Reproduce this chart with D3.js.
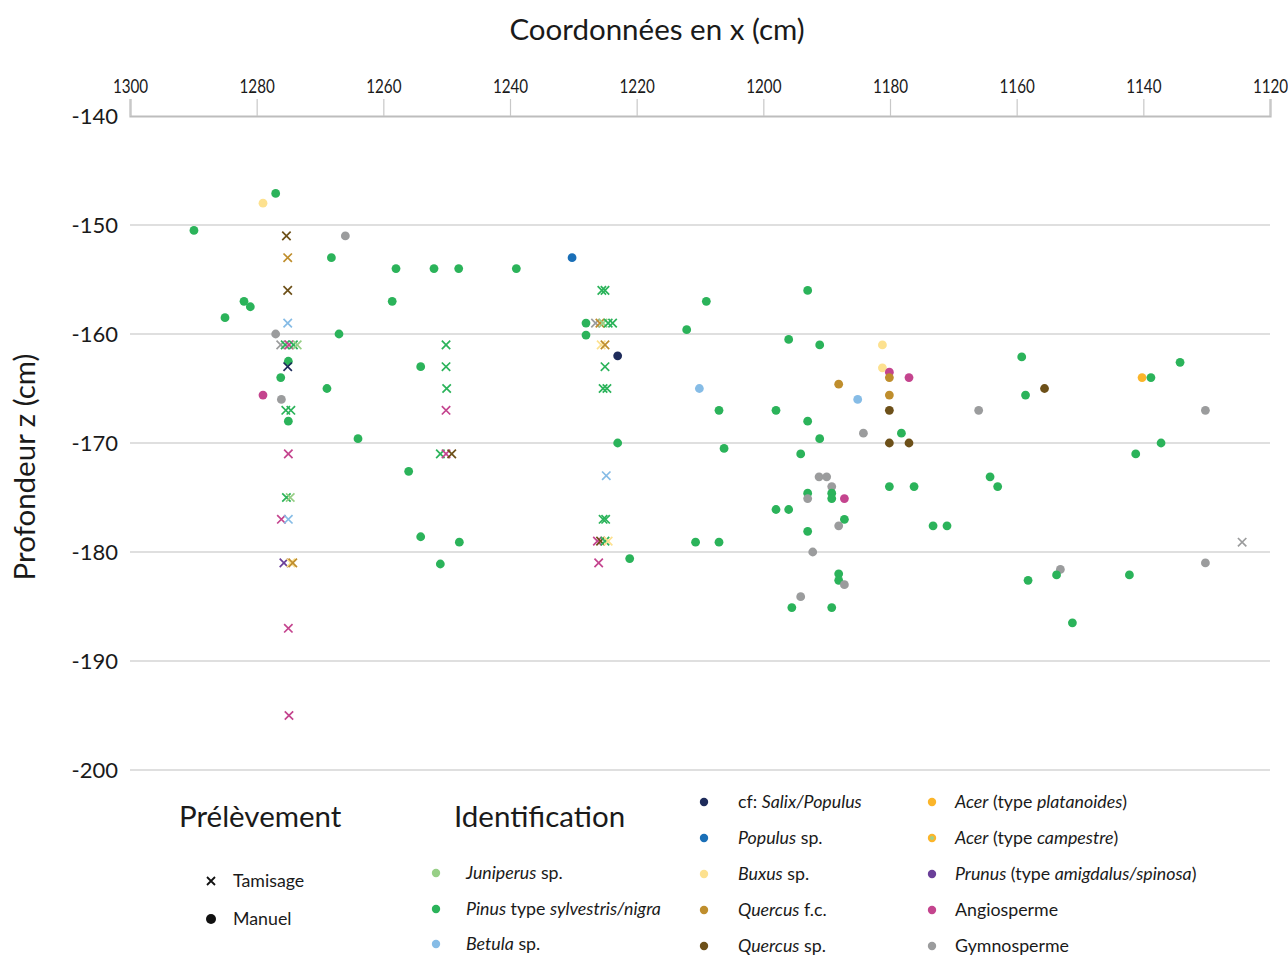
<!DOCTYPE html>
<html>
<head>
<meta charset="utf-8">
<script src="https://cdn.jsdelivr.net/npm/d3@7"></script>
<style>
  html, body { margin: 0; padding: 0; background: #fff; }
  svg text { font-family: Lato, "Open Sans", sans-serif; fill: #1a1a1a; }
</style>
</head>
<body>
<svg id="chart" width="1288" height="956"></svg>
<script>
// Taxa: key, colour, legend label pieces ([text, italic])
const taxonKeys = ["juniperus", "pinus", "betula", "salixPopulus", "populus", "buxus",
  "quercusFc", "quercusSp", "acerPlat", "acerCamp", "prunus", "angio", "gymno"];
const taxonColors = ["#97cf86", "#2bb35a", "#86bce6", "#1e2b5b", "#1a6fb7", "#fde18f",
  "#bf8e2d", "#6d5019", "#fbb52a", "#fbb52a", "#6a3f99", "#c4448e", "#9b9c9d"];
const taxonLabels = [
  [["Juniperus", 1], [" sp.", 0]],
  [["Pinus", 1], [" type ", 0], ["sylvestris/nigra", 1]],
  [["Betula", 1], [" sp.", 0]],
  [["cf: ", 0], ["Salix/Populus", 1]],
  [["Populus", 1], [" sp.", 0]],
  [["Buxus", 1], [" sp.", 0]],
  [["Quercus", 1], [" f.c.", 0]],
  [["Quercus", 1], [" sp.", 0]],
  [["Acer", 1], [" (type ", 0], ["platanoides", 1], [")", 0]],
  [["Acer", 1], [" (type ", 0], ["campestre", 1], [")", 0]],
  [["Prunus", 1], [" (type ", 0], ["amigdalus/spinosa", 1], [")", 0]],
  [["Angiosperme", 0]],
  [["Gymnosperme", 0]]
];

// Axis ticks
const xTicks = [1300, 1280, 1260, 1240, 1220, 1200, 1180, 1160, 1140, 1120];
const zTicks = [-140, -150, -160, -170, -180, -190, -200];

// Hand-picked samples: [taxon, x (cm), z (cm)]
const manuelPoints = [
  ["pinus", 1277.0, -147.1], ["buxus", 1279.0, -148.0], ["pinus", 1289.9, -150.5],
  ["gymno", 1266.0, -151.0], ["pinus", 1268.2, -153.0], ["pinus", 1282.0, -157.0],
  ["pinus", 1281.0, -157.5], ["pinus", 1285.0, -158.5], ["gymno", 1277.0, -160.0],
  ["pinus", 1267.0, -160.0], ["pinus", 1275.0, -162.5], ["pinus", 1276.2, -164.0],
  ["pinus", 1268.9, -165.0], ["angio", 1279.0, -165.6], ["gymno", 1276.1, -166.0],
  ["pinus", 1275.0, -168.0], ["pinus", 1264.0, -169.6], ["populus", 1230.2, -153.0],
  ["pinus", 1258.0, -154.0], ["pinus", 1252.0, -154.0], ["pinus", 1248.1, -154.0],
  ["pinus", 1239.0, -154.0], ["pinus", 1258.6, -157.0], ["pinus", 1254.1, -163.0],
  ["pinus", 1256.0, -172.6], ["pinus", 1254.1, -178.6], ["pinus", 1248.0, -179.1],
  ["pinus", 1251.0, -181.1], ["pinus", 1209.0, -157.0], ["pinus", 1228.0, -159.0],
  ["pinus", 1212.1, -159.6], ["pinus", 1228.0, -160.1], ["salixPopulus", 1223.0, -162.0],
  ["betula", 1210.1, -165.0], ["pinus", 1207.0, -167.0], ["pinus", 1198.0, -167.0],
  ["pinus", 1223.0, -170.0], ["pinus", 1206.2, -170.5], ["pinus", 1198.0, -176.1],
  ["pinus", 1210.7, -179.1], ["pinus", 1207.0, -179.1], ["pinus", 1221.1, -180.6],
  ["pinus", 1193.0, -156.0], ["pinus", 1196.0, -160.5], ["pinus", 1191.1, -161.0],
  ["buxus", 1181.2, -161.0], ["buxus", 1181.2, -163.1], ["angio", 1180.1, -163.5],
  ["quercusFc", 1180.1, -164.0], ["angio", 1177.0, -164.0], ["quercusFc", 1188.1, -164.6],
  ["quercusFc", 1180.1, -165.6], ["betula", 1185.1, -166.0], ["quercusSp", 1180.1, -167.0],
  ["pinus", 1193.0, -168.0], ["gymno", 1184.2, -169.1], ["pinus", 1178.2, -169.1],
  ["pinus", 1191.1, -169.6], ["quercusSp", 1180.1, -170.0], ["quercusSp", 1177.0, -170.0],
  ["pinus", 1194.1, -171.0], ["gymno", 1191.2, -173.1], ["gymno", 1190.0, -173.1],
  ["gymno", 1189.2, -174.0], ["pinus", 1193.0, -174.6], ["gymno", 1193.0, -175.1],
  ["pinus", 1189.2, -174.6], ["pinus", 1189.2, -175.1], ["angio", 1187.2, -175.1],
  ["pinus", 1180.1, -174.0], ["pinus", 1176.2, -174.0], ["pinus", 1196.0, -176.1],
  ["pinus", 1187.2, -177.0], ["gymno", 1188.1, -177.6], ["pinus", 1173.2, -177.6],
  ["pinus", 1171.0, -177.6], ["pinus", 1193.0, -178.1], ["gymno", 1192.2, -180.0],
  ["pinus", 1188.1, -182.0], ["pinus", 1188.1, -182.6], ["gymno", 1187.2, -183.0],
  ["gymno", 1194.1, -184.1], ["pinus", 1195.5, -185.1], ["pinus", 1189.2, -185.1],
  ["pinus", 1159.2, -162.1], ["pinus", 1134.2, -162.6], ["acerPlat", 1140.2, -164.0],
  ["pinus", 1138.8, -164.0], ["quercusSp", 1155.6, -165.0], ["pinus", 1158.6, -165.6],
  ["gymno", 1166.0, -167.0], ["gymno", 1130.2, -167.0], ["pinus", 1137.2, -170.0],
  ["pinus", 1141.2, -171.0], ["pinus", 1164.2, -173.1], ["pinus", 1163.0, -174.0],
  ["gymno", 1130.2, -181.0], ["gymno", 1153.1, -181.6], ["pinus", 1153.7, -182.1],
  ["pinus", 1142.2, -182.1], ["pinus", 1158.2, -182.6], ["pinus", 1151.2, -186.5]
];

// Sieved samples: [taxon, x (cm), z (cm)]
const tamisagePoints = [
  ["quercusSp", 1275.3, -151], ["quercusFc", 1275.1, -153], ["quercusSp", 1275.1, -156],
  ["betula", 1275.1, -159], ["gymno", 1276.2, -161], ["pinus", 1275.5, -161],
  ["angio", 1274.9, -161], ["pinus", 1274.2, -161], ["juniperus", 1273.6, -161],
  ["salixPopulus", 1275.1, -163], ["pinus", 1275.4, -167], ["pinus", 1274.6, -167],
  ["angio", 1275.0, -171], ["pinus", 1275.3, -175], ["juniperus", 1274.7, -175],
  ["angio", 1276.1, -177], ["betula", 1275.0, -177], ["prunus", 1275.7, -181],
  ["buxus", 1274.6, -181], ["quercusFc", 1274.3, -181], ["angio", 1275.0, -187],
  ["angio", 1274.9, -195], ["pinus", 1250.1, -161], ["pinus", 1250.1, -163],
  ["pinus", 1250.0, -165], ["angio", 1250.1, -167], ["pinus", 1251.0, -171],
  ["angio", 1250.1, -171], ["quercusSp", 1249.2, -171], ["pinus", 1225.5, -156],
  ["pinus", 1225.0, -156], ["gymno", 1226.5, -159], ["quercusFc", 1225.8, -159],
  ["juniperus", 1225.3, -159], ["pinus", 1224.5, -159], ["pinus", 1223.8, -159],
  ["buxus", 1225.6, -161], ["quercusFc", 1225.0, -161], ["pinus", 1225.0, -163],
  ["pinus", 1225.3, -165], ["pinus", 1224.7, -165], ["betula", 1224.8, -173],
  ["pinus", 1225.3, -177], ["pinus", 1224.9, -177], ["angio", 1226.2, -179],
  ["quercusSp", 1225.7, -179], ["pinus", 1225.0, -179], ["buxus", 1224.5, -179],
  ["angio", 1226.0, -181], ["gymno", 1124.4, -179.1]
];

const svg = d3.select("#chart");
const color = d3.scaleOrdinal().domain(taxonKeys).range(taxonColors);
const x = d3.scaleLinear().domain([1300, 1120]).range([130, 1270]);
const y = d3.scaleLinear().domain([-140, -200]).range([116, 770]);

// Horizontal grid lines
svg.append("g")
  .selectAll("line")
  .data(zTicks.slice(1))
  .join("line")
  .attr("x1", x(1300)).attr("x2", x(1120))
  .attr("y1", d => y(d)).attr("y2", d => y(d))
  .attr("stroke", "#d5d5d5").attr("stroke-width", 1.6);

// Top axis (condensed tick labels)
const xAxis = svg.append("g")
  .attr("transform", `translate(0,${y(-140)})`)
  .call(d3.axisTop(x).tickValues(xTicks).tickSize(17).tickPadding(6).tickFormat(d3.format("d")));
xAxis.select(".domain").attr("stroke", "#bdbdbd").attr("stroke-width", 2.2);
xAxis.selectAll(".tick line").attr("stroke", "#c8c8c8").attr("stroke-width", 1.2);
xAxis.selectAll(".tick text").attr("font-size", 19).attr("fill", "#1a1a1a")
  .attr("font-family", "Lato, sans-serif")
  .attr("transform", "scale(0.8,1)");

// Left axis labels
const yAxis = svg.append("g")
  .attr("transform", `translate(120,0)`)
  .call(d3.axisLeft(y).tickValues(zTicks).tickSize(0).tickPadding(2).tickFormat(d3.format("d")));
yAxis.select(".domain").remove();
yAxis.selectAll(".tick text").attr("font-size", 22).attr("fill", "#1a1a1a")
  .attr("font-family", "Lato, sans-serif").text(d => String(d).replace("−", "-"));

// Titles
svg.append("text").attr("x", 657).attr("y", 40).attr("text-anchor", "middle")
  .attr("font-size", 29.5).text("Coordonnées en x (cm)");
svg.append("text").attr("transform", "translate(35,467) rotate(-90)").attr("text-anchor", "middle")
  .attr("font-size", 29.5).text("Profondeur z (cm)");

// Points
const plot = svg.append("g");
plot.selectAll("circle.manuel")
  .data(manuelPoints)
  .join("circle")
  .attr("class", "manuel")
  .attr("cx", d => x(d[1])).attr("cy", d => y(d[2]))
  .attr("r", 4.4)
  .attr("fill", d => color(d[0]));

const cross = (s) => `M${-s},${-s}L${s},${s}M${-s},${s}L${s},${-s}`;
plot.selectAll("path.tamisage")
  .data(tamisagePoints)
  .join("path")
  .attr("class", "tamisage")
  .attr("transform", d => `translate(${x(d[1])},${y(d[2])})`)
  .attr("d", cross(4.2))
  .attr("fill", "none")
  .attr("stroke", d => color(d[0]))
  .attr("stroke-width", 1.7);

// Legend: sampling method
const leg = svg.append("g");
leg.append("text").attr("x", 179).attr("y", 827).attr("font-size", 29.5).text("Prélèvement");
leg.append("text").attr("x", 454).attr("y", 827).attr("font-size", 29.5).text("Identification");
leg.append("path").attr("transform", "translate(211,881)").attr("d", cross(4))
  .attr("stroke", "#111").attr("stroke-width", 1.8).attr("fill", "none");
leg.append("text").attr("x", 233).attr("y", 887).attr("font-size", 17.8).text("Tamisage");
leg.append("circle").attr("cx", 211).attr("cy", 919).attr("r", 5).attr("fill", "#111");
leg.append("text").attr("x", 233).attr("y", 925).attr("font-size", 17.8).text("Manuel");

// Legend: taxa in three columns
const colPos = [
  { dot: 436, text: 466, rows: [873, 909, 944] },
  { dot: 704, text: 738, rows: [802, 838, 874, 910, 946] },
  { dot: 932, text: 955, rows: [802, 838, 874, 910, 946] }
];
let k = 0;
colPos.forEach(c => {
  c.rows.forEach(ry => {
    const key = taxonKeys[k];
    const item = leg.append("g");
    item.append("circle").attr("cx", c.dot).attr("cy", ry).attr("r", 4.2).attr("fill", color(key));
    if (key === "acerCamp") {
      item.append("circle").attr("cx", c.dot).attr("cy", ry).attr("r", 2).attr("fill", "#9fd08c");
    }
    const t = item.append("text").attr("x", c.text).attr("y", ry + 6).attr("font-size", 17.8);
    taxonLabels[k].forEach(([s, it]) => {
      t.append("tspan").attr("font-style", it ? "italic" : "normal").text(s);
    });
    k++;
  });
});
</script>
</body>
</html>
